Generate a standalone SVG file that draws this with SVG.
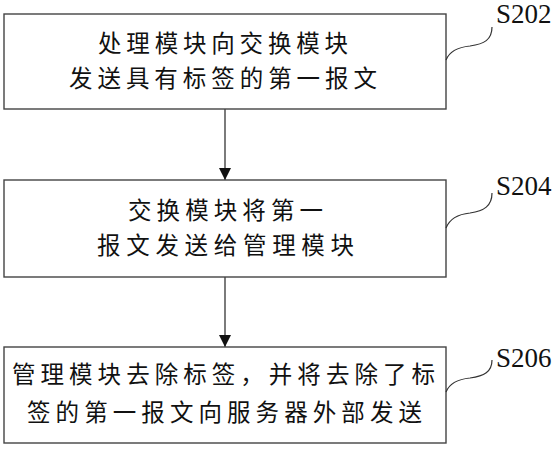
<svg xmlns="http://www.w3.org/2000/svg" width="560" height="450" viewBox="0 0 560 450">
<defs>
<style>
.box{fill:#fff;stroke:#444;stroke-width:1.4}
.txt{font-family:"Noto Sans CJK SC","Noto Sans CJK JP",sans-serif;font-size:23.5px;fill:#111;dominant-baseline:central}
.lbl{font-family:"Liberation Serif","Times New Roman",serif;font-size:27px;fill:#111}
.lead{fill:none;stroke:#333;stroke-width:1.2}
.conn{stroke:#444;stroke-width:1.4;fill:none}
</style>
<marker id="arr" viewBox="0 0 12 12" refX="12" refY="6" markerWidth="12" markerHeight="12" markerUnits="userSpaceOnUse" orient="auto">
<path d="M0,0 L12,6 L0,12 Z" fill="#111"/>
</marker>
</defs>
<rect width="560" height="450" fill="#fff"/>
<g id="connectors">
<line class="conn" x1="225" y1="109" x2="225" y2="180" marker-end="url(#arr)"/>
<line class="conn" x1="225" y1="277" x2="225" y2="347" marker-end="url(#arr)"/>
</g>
<g id="s202">
<rect class="box" x="4" y="14" width="442" height="95"/>
<text class="txt" x="98" y="42" textLength="250" lengthAdjust="spacing">处理模块向交换模块</text>
<text class="txt" x="69" y="77" textLength="308" lengthAdjust="spacing">发送具有标签的第一报文</text>
<path class="lead" d="M446,60 C450,50 460,47 470,46 C484,44 492,40 492,27"/>
<text class="lbl" x="496" y="23">S202</text>
</g>
<g id="s204">
<rect class="box" x="4" y="180" width="442" height="97"/>
<text class="txt" x="128" y="209" textLength="195" lengthAdjust="spacing">交换模块将第一</text>
<text class="txt" x="97" y="244" textLength="257" lengthAdjust="spacing">报文发送给管理模块</text>
<path class="lead" d="M446,228 C450,218 460,214 470,213 C484,211 492,206 492,193"/>
<text class="lbl" x="496" y="195">S204</text>
</g>
<g id="s206">
<rect class="box" x="4" y="347" width="442" height="96"/>
<text class="txt" x="12" y="373" textLength="423" lengthAdjust="spacing">管理模块去除标签，并将去除了标</text>
<text class="txt" x="27" y="411" textLength="395" lengthAdjust="spacing">签的第一报文向服务器外部发送</text>
<path class="lead" d="M446,392 C450,382 460,379 470,378 C484,376 492,372 492,360"/>
<text class="lbl" x="496" y="367">S206</text>
</g>
</svg>
